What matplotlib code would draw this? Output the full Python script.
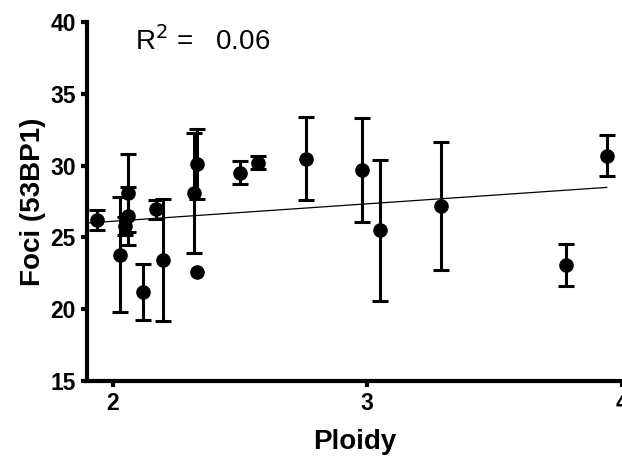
import numpy as np
import matplotlib
matplotlib.use("Agg")
import matplotlib.pyplot as plt

plt.rcParams['font.family'] = ['Liberation Sans', 'DejaVu Sans']

# Data (mean foci vs ploidy, with SD)
ploidy = [1.94, 2.03, 2.06, 2.06, 2.05, 2.12, 2.17, 2.20, 2.32, 2.33,
          2.33, 2.50, 2.57, 2.76, 2.98, 3.05, 3.29, 3.78, 3.94]
foci = [26.2, 23.8, 28.1, 26.5, 25.8, 21.2, 26.95, 23.4, 28.1, 30.1,
        22.6, 29.5, 30.2, 30.5, 29.7, 25.5, 27.2, 23.1, 30.7]
foci_err = [0.7, 4.0, 2.7, 2.0, 0.6, 1.95, 0.65, 4.25, 4.2, 2.45,
            0.0, 0.8, 0.45, 2.9, 3.6, 4.9, 4.45, 1.45, 1.45]
r2_text = "0.06"

x = np.array(ploidy)
y = np.array(foci)
err = np.array(foci_err)
has_err = err > 0

fig = plt.figure(figsize=(6.22, 4.61), dpi=100)
ax = fig.add_axes([0.140, 0.1735, 0.860, 0.7785])

# error bars (only where an SD exists) + points
ax.errorbar(x[has_err], y[has_err], yerr=err[has_err], fmt='none', ecolor='black',
            elinewidth=2.2, capsize=5.5, capthick=2.2, zorder=3)
ax.plot(x, y, 'o', color='black', markersize=9.5, zorder=4)

# linear fit across the data range
slope, intercept = np.polyfit(x, y, 1)
xf = np.array([x.min() - 0.03, x.max()])
ax.plot(xf, slope * xf + intercept, color='black', linewidth=0.9, zorder=2)

ax.set_xlim(1.9, 4.0)
ax.set_ylim(15, 40)
ax.set_xticks([2, 3, 4])
ax.set_yticks([15, 20, 25, 30, 35, 40])

for side in ['top', 'right']:
    ax.spines[side].set_visible(False)
for side in ['left', 'bottom']:
    ax.spines[side].set_linewidth(3)
ax.tick_params(width=3, length=4, labelsize=16.5, pad=4)
for lab in ax.get_xticklabels() + ax.get_yticklabels():
    lab.set_fontweight('bold')

ax.set_xlabel('Ploidy', fontsize=20, fontweight='bold', labelpad=10)
ax.set_ylabel('Foci (53BP1)', fontsize=20, fontweight='bold', labelpad=3)

ax.text(0.09, 0.99, r'R$^2$ =   ' + r2_text, transform=ax.transAxes,
        fontsize=20, va='top', ha='left')

fig.savefig('out.png', dpi=100)
